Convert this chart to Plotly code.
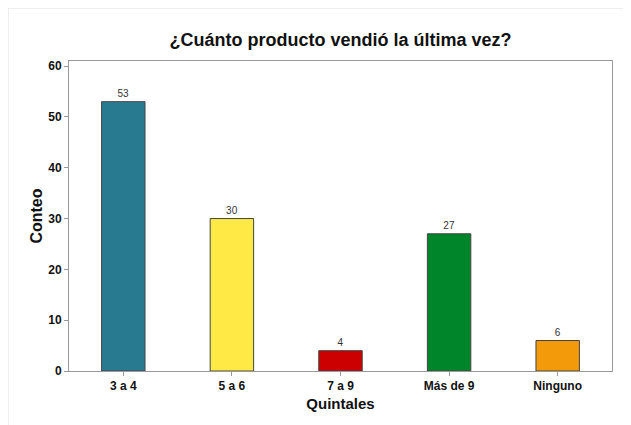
import plotly.graph_objects as go

categories = ["3 a 4", "5 a 6", "7 a 9", "Más de 9", "Ninguno"]
counts = [53, 30, 4, 27, 6]
colors = ["#287A91", "#FFE945", "#CC0000", "#00852A", "#F39A0B"]
y_ticks = [0, 10, 20, 30, 40, 50, 60]

W, H = 631, 425
ml, mr, mt, mb = 61, 27, 53, 62
pw, ph = W - ml - mr, H - mt - mb

font = "Liberation Sans, Arial, sans-serif"

fig = go.Figure()
fig.add_trace(go.Bar(
    x=categories, y=counts,
    marker=dict(color=colors, line=dict(color="#444444", width=1)),
    width=0.4,
    text=[str(v) for v in counts], textposition="outside",
    textfont=dict(family=font, size=10, color="#333333"),
    cliponaxis=False,
    hoverinfo="x+y",
))

fig.update_layout(
    width=W, height=H,
    margin=dict(l=ml, r=mr, t=mt, b=mb),
    paper_bgcolor="white", plot_bgcolor="white",
    showlegend=False,
    title=dict(text="<b>¿Cuánto producto vendió la última vez?</b>",
               x=(ml + pw / 2) / W, xanchor="center", y=1 - 32 / H, yanchor="middle",
               font=dict(family=font, size=18, color="#111111")),
    xaxis=dict(
        range=[-0.5, 4.5], showline=True, linecolor="#999999", linewidth=1, mirror=True,
        ticks="outside", ticklen=4, tickcolor="#999999",
        tickvals=categories, ticktext=["<b>%s</b>" % c for c in categories],
        tickfont=dict(family=font, size=12, color="#111111"),
        title=dict(text="<b>Quintales</b>", font=dict(family=font, size=15, color="#111111"), standoff=6),
        showgrid=False,
    ),
    yaxis=dict(
        range=[0, 61], tickvals=y_ticks, ticktext=["<b>%d</b>" % v for v in y_ticks],
        showline=True, linecolor="#999999", linewidth=1, mirror=True,
        ticks="outside", ticklen=4, tickcolor="#999999",
        tickfont=dict(family=font, size=12, color="#111111"),
        title=dict(text="<b>Conteo</b>", font=dict(family=font, size=16, color="#111111"), standoff=1),
        showgrid=False, zeroline=False,
    ),
)

# light frame around the whole graph window
fig.add_shape(type="rect", xref="paper", yref="paper",
              x0=-ml / pw, x1=1 + mr / pw,
              y0=-mb / ph, y1=1 + mt / ph,
              line=dict(color="#DDDDDD", width=1), layer="below")

fig.write_html("out.html")
